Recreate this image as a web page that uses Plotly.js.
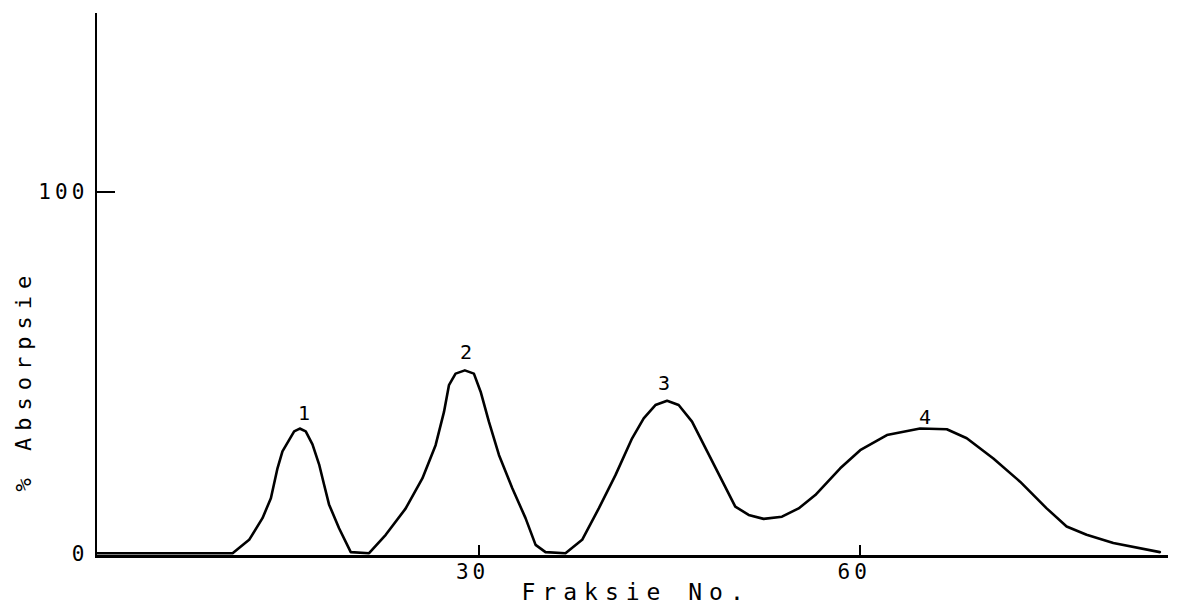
<!DOCTYPE html>
<html>
<head>
<meta charset="utf-8">
<script src="https://cdn.plot.ly/plotly-3.0.1.min.js"></script>
<style>
  html, body { margin: 0; padding: 0; background: #fff; }
  #chart { width: 1177px; height: 611px; }
  .xtick text, .ytick text { letter-spacing: 4px; }
  .annotation-text.spaced { letter-spacing: 7px; }
  .scatterlayer .js-line { stroke-linejoin: round; stroke-linecap: round; }
</style>
</head>
<body>
<div id="chart"></div>
<script>
// Fraction number (x) and % absorption (y)
const fraction = [0, 10.66, 11.96, 13.01, 13.67, 14.19, 14.58, 15.10, 15.50, 15.94, 16.41, 16.94,
  17.46, 17.85, 18.24, 19.03, 19.95, 21.39,
  22.70, 24.27, 25.58, 26.62, 27.28, 27.67, 28.19, 28.92, 29.63, 30.16, 30.81, 31.60, 32.65, 33.69,
  34.48, 35.26, 36.83,
  38.14, 39.45, 40.76, 42.07, 42.98, 43.90, 44.82, 45.73, 46.78, 48.09, 49.40, 50.18, 51.23, 52.41,
  53.85, 55.16, 56.47, 58.43, 60.0, 62.1, 64.71, 66.81, 68.38, 70.47, 72.57, 74.66, 76.23, 77.8,
  79.9, 83.56];
const absorption = [0, 0, 3.7, 9.7, 15.2, 23.5, 28.2, 31.4, 33.7, 34.5, 33.7, 30.1,
  24.6, 19.0, 13.5, 6.9, 0.3, 0,
  5.1, 12.4, 20.7, 29.9, 39.1, 46.5, 49.7, 50.6, 49.7, 44.7, 36.4, 27.2, 18.0, 9.7,
  2.3, 0.3, 0,
  3.7, 12.4, 21.6, 31.8, 37.3, 41.0, 42.2, 41.0, 36.4, 27.2, 18.0, 12.9, 10.6, 9.5,
  10.1, 12.4, 16.1, 23.5, 28.5, 32.7, 34.5, 34.3, 31.8, 26.2, 19.8, 12.4, 7.4, 5.1,
  2.8, 0.3];

// Peak labels
const peakNames = ["1", "2", "3", "4"];
const peakX = [16.3, 29.0, 44.6, 65.1];
const peakY = [38.8, 55.8, 47.2, 37.6];

const xTickVals = [30, 60];
const xTickText = ["30", "60"];
const yTickVals = [0, 100];
const yTickText = ["0", "100"];

const xTitle = "Fraksie No.";
const yTitle = "% Absorpsie";

const font = "DejaVu Sans Mono, monospace";

const trace = {
  x: fraction, y: absorption, type: "scatter", mode: "lines",
  line: {color: "#000", width: 2.6, shape: "linear"},
  hoverinfo: "skip", showlegend: false
};

const annotations = peakNames.map((t, i) => ({
  x: peakX[i], y: peakY[i], xref: "x", yref: "y", text: t, showarrow: false,
  font: {family: font, size: 20, color: "#000"}
}));
annotations.push({
  x: 0.503, y: -0.068, xref: "paper", yref: "paper", xanchor: "center", yanchor: "middle",
  text: xTitle, showarrow: false, font: {family: font, size: 23, color: "#000"}
});
annotations.push({
  x: -0.068, y: 48, xref: "paper", yref: "y", xanchor: "center", yanchor: "middle",
  text: yTitle, showarrow: false, textangle: -90,
  font: {family: font, size: 22, color: "#000"}
});

const layout = {
  width: 1177, height: 611,
  margin: {l: 97, r: 9, t: 13, b: 56},
  paper_bgcolor: "#fff", plot_bgcolor: "#fff",
  font: {family: font, color: "#000"},
  xaxis: {
    range: [0, 84.2], showgrid: false, zeroline: false,
    showline: true, linecolor: "#000", linewidth: 2.5,
    tickmode: "array", tickvals: xTickVals, ticktext: xTickText,
    ticks: "inside", ticklen: 10, tickwidth: 2, tickcolor: "#000",
    tickfont: {family: font, size: 21, color: "#000"},
    ticklabelstandoff: -4, ticklabelshift: -6
  },
  yaxis: {
    range: [-0.5, 149.5], showgrid: false, zeroline: false,
    showline: true, linecolor: "#000", linewidth: 2.5,
    tickmode: "array", tickvals: yTickVals, ticktext: yTickText,
    ticks: "inside", ticklen: 18, tickwidth: 2, tickcolor: "#000",
    tickfont: {family: font, size: 21, color: "#000"}, ticklabelstandoff: 2
  },
  annotations: annotations
};

Plotly.newPlot("chart", [trace], layout, {staticPlot: true, displayModeBar: false}).then(() => {
  document.querySelectorAll(".annotation-text").forEach(el => {
    const t = el.textContent;
    if (t === xTitle || t === yTitle) el.classList.add("spaced");
  });
});
</script>
</body>
</html>
